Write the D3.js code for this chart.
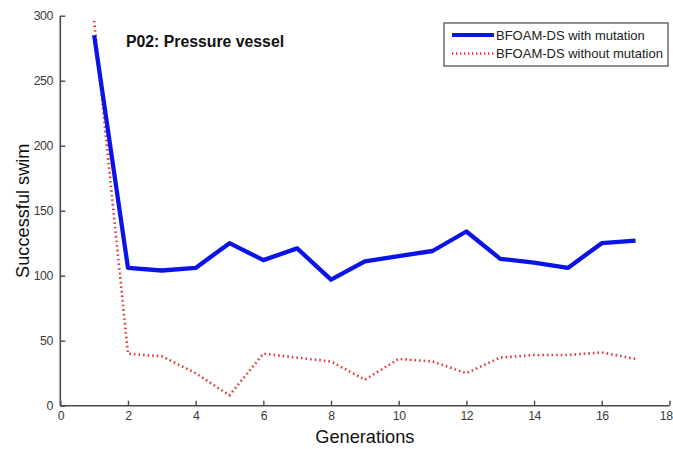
<!DOCTYPE html>
<html>
<head>
<meta charset="utf-8">
<script src="https://cdn.jsdelivr.net/npm/d3@7"></script>
<style>
  html, body { margin: 0; padding: 0; background: #fff; }
  svg { display: block; font-family: "Liberation Sans", Arial, sans-serif; }
</style>
</head>
<body>
<svg id="chart" width="673" height="449"></svg>
<script>
// Generations on the x axis
const generations = [1, 2, 3, 4, 5, 6, 7, 8, 9, 10, 11, 12, 13, 14, 15, 16, 17];
// Successful swims per generation
const withMutation = [285, 106, 104, 106, 125, 112, 121, 97, 111, 115, 119, 134, 113, 110, 106, 125, 127];
const withoutMutation = [296, 40, 38, 25, 8, 40, 37, 34, 20, 36, 34, 25, 37, 39, 39, 41, 36];
// Tick values
const xTicks = [0, 2, 4, 6, 8, 10, 12, 14, 16, 18];
const yTicks = [0, 50, 100, 150, 200, 250, 300];
const seriesNames = ["BFOAM-DS with mutation", "BFOAM-DS without mutation"];

const svg = d3.select("#chart");
const margin = { left: 60.3, right: 3.6, top: 15.7, bottom: 43.3 };
const W = 673, H = 449;

const x = d3.scaleLinear().domain([0, 18]).range([margin.left, W - margin.right]);
const y = d3.scaleLinear().domain([0, 300]).range([H - margin.bottom, margin.top]);

const axisColor = "#4a4a4a";

// x axis (ticks point inward)
const gx = svg.append("g")
  .attr("transform", `translate(0,${y(0)})`)
  .call(d3.axisBottom(x).tickValues(xTicks).tickSize(-5).tickPadding(6).tickFormat(d3.format("d")));
// y axis
const gy = svg.append("g")
  .attr("transform", `translate(${x(0)},0)`)
  .call(d3.axisLeft(y).tickValues(yTicks).tickSize(-5).tickPadding(7.5).tickFormat(d3.format("d")));

[gx, gy].forEach(g => {
  g.select(".domain").attr("stroke", axisColor).attr("stroke-width", 1.6);
  g.selectAll(".tick line").attr("stroke", axisColor).attr("stroke-width", 1.4);
  g.selectAll(".tick text")
    .attr("fill", "#3a3a3a")
    .style("font-size", "12.3px")
    .style("letter-spacing", "-0.5px")
    .style("font-family", "Liberation Sans, Arial, sans-serif");
});
gy.select(".domain").attr("d", `M0,${y(300)}V${y(0)}`);
gx.select(".domain").attr("d", `M${x(0)},0H${x(18)}`);
// keep the last x tick label inside the page edge
gx.selectAll(".tick text")
  .filter(d => d === 18)
  .attr("text-anchor", "end")
  .attr("x", W - 1 - x(18));

const line = d3.line().x((d, i) => x(generations[i])).y(d => y(d));

// Dotted series (no mutation)
svg.append("path")
  .datum(withoutMutation)
  .attr("d", line)
  .attr("fill", "none")
  .attr("stroke", "#e23b3b")
  .attr("stroke-width", 2.6)
  .attr("stroke-dasharray", "1.6,3");

// Solid series (with mutation)
svg.append("path")
  .datum(withMutation)
  .attr("d", line)
  .attr("fill", "none")
  .attr("stroke", "#0a14e6")
  .attr("stroke-width", 4.3)
  .attr("stroke-linejoin", "round");

// Title inside the plot
svg.append("text")
  .attr("x", 126)
  .attr("y", 46.5)
  .attr("font-size", "15.8px")
  .attr("font-weight", "bold")
  .attr("fill", "#111")
  .text("P02: Pressure vessel");

// Axis labels
svg.append("text")
  .attr("x", x(9))
  .attr("y", 443)
  .attr("text-anchor", "middle")
  .attr("font-size", "18.2px")
  .attr("fill", "#111")
  .text("Generations");

svg.append("text")
  .attr("transform", `translate(28.5,${(y(0) + y(300)) / 2}) rotate(-90)`)
  .attr("text-anchor", "middle")
  .attr("font-size", "18.2px")
  .attr("fill", "#111")
  .text("Successful swim");

// Legend
const lg = svg.append("g").attr("transform", "translate(444,23)");
lg.append("rect")
  .attr("width", 224).attr("height", 43)
  .attr("fill", "#fff")
  .attr("stroke", "#444").attr("stroke-width", 1.2);
const legendStyles = [
  { stroke: "#0a14e6", width: 4, dash: null },
  { stroke: "#e23b3b", width: 2.4, dash: "1.4,2.6" }
];
seriesNames.forEach((name, i) => {
  const yy = 12 + i * 18.5;
  lg.append("line")
    .attr("x1", 8).attr("x2", 50).attr("y1", yy).attr("y2", yy)
    .attr("stroke", legendStyles[i].stroke)
    .attr("stroke-width", legendStyles[i].width)
    .attr("stroke-dasharray", legendStyles[i].dash);
  lg.append("text")
    .attr("x", 52).attr("y", yy + 4.5)
    .attr("font-size", "13px")
    .attr("fill", "#222")
    .text(name);
});
</script>
</body>
</html>
